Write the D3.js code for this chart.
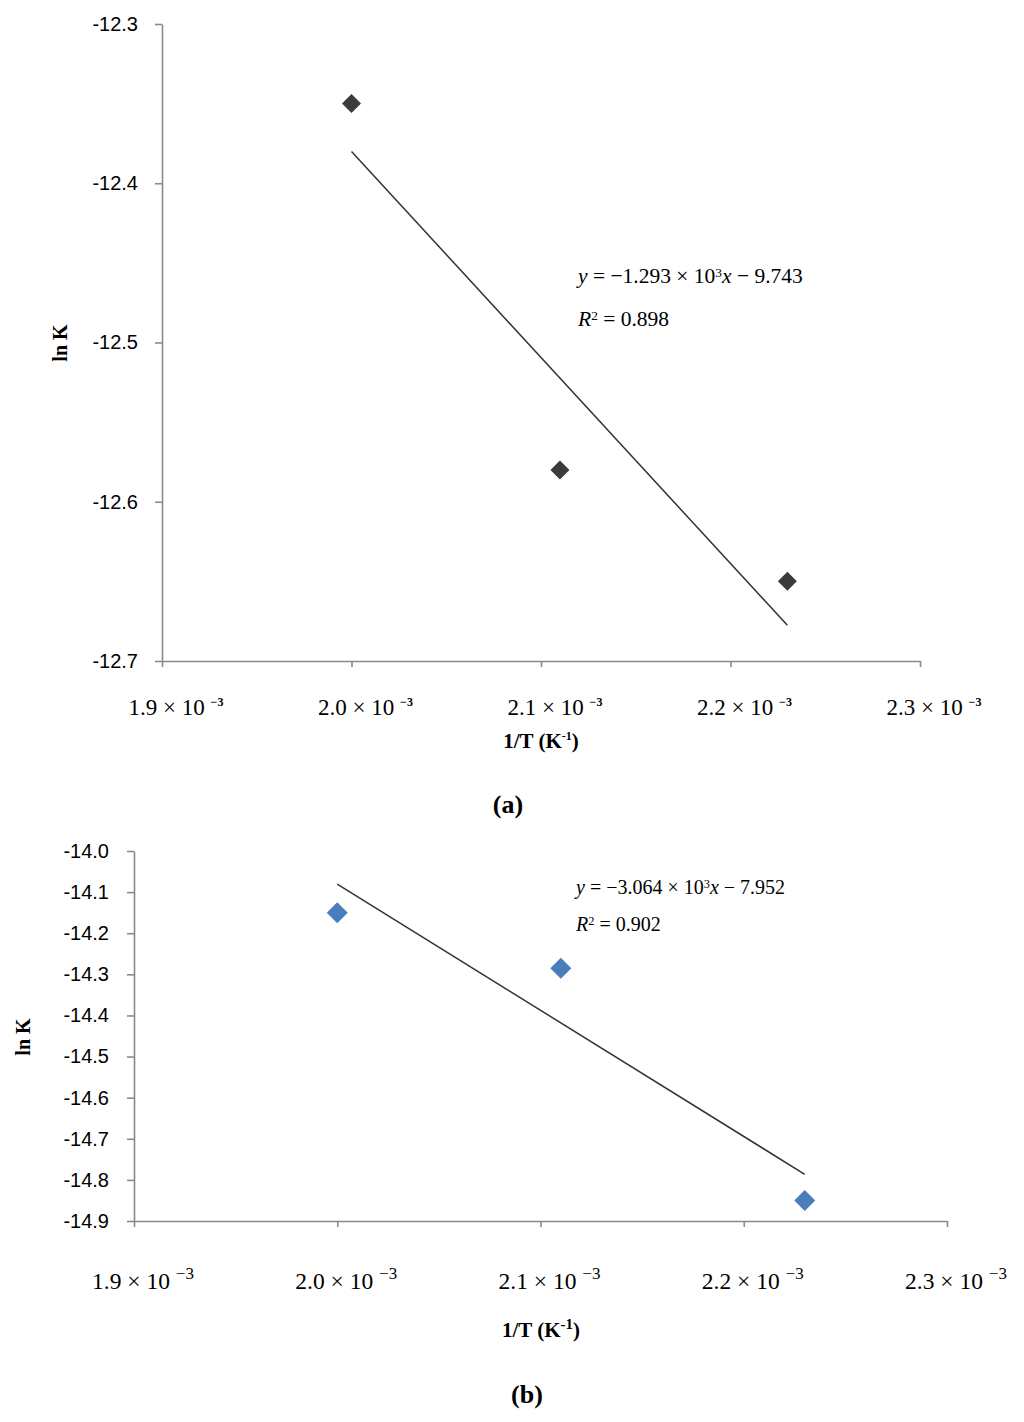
<!DOCTYPE html>
<html><head><meta charset="utf-8">
<script src="https://cdn.jsdelivr.net/npm/d3@7"></script>
<style>body{margin:0;background:#fff}svg{display:block}</style>
</head><body>
<svg id="c" width="1024" height="1422"></svg>
<script>
// ---- data ----
const xTicks = [1.9, 2.0, 2.1, 2.2, 2.3];          // ×10⁻³
const xTickLabels = ["1.9", "2.0", "2.1", "2.2", "2.3"];
const aYTicks = [-12.3, -12.4, -12.5, -12.6, -12.7];
const bYTicks = [-14.0, -14.1, -14.2, -14.3, -14.4, -14.5, -14.6, -14.7, -14.8, -14.9];
const aX = [2.0, 2.11, 2.23];
const aY = [-12.35, -12.58, -12.65];
const bX = [2.0, 2.11, 2.23];
const bY = [-14.15, -14.285, -14.85];
const aEq = ["−1.293", "−9.743", "0.898"];
const bEq = ["−3.064", "−7.952", "0.902"];

const svg = d3.select("#c");
const serif = "'Liberation Serif','Times New Roman',serif";
const sans = "'Liberation Sans',Arial,sans-serif";

function fit(xs, ys){
  const mx = d3.mean(xs), my = d3.mean(ys);
  const sxy = d3.sum(xs, (x,i)=>(x-mx)*(ys[i]-my));
  const sxx = d3.sum(xs, x=>(x-mx)*(x-mx));
  const m = sxy/sxx; return {m, b: my - m*mx};
}

function chart(o){
  const x = d3.scaleLinear().domain([1.9, 2.3]).range(o.xr);
  const y = d3.scaleLinear().domain(o.yd).range(o.yr);
  const g = svg.append("g");
  // y axis
  const ya = g.append("g").attr("transform", `translate(${o.xr[0]},0)`)
    .call(d3.axisLeft(y).tickValues(o.yTicks).tickSize(7).tickSizeOuter(0)
      .tickPadding(o.yPad).tickFormat(d=>d.toFixed(1)));
  ya.selectAll("text").attr("font-family", sans).attr("font-size", o.yFont).attr("fill","#000");
  // x axis
  const xa = g.append("g").attr("transform", `translate(0,${o.yr[0]})`)
    .call(d3.axisBottom(x).tickValues(xTicks).tickSize(6).tickSizeOuter(0).tickFormat(""));
  [ya, xa].forEach(a=>{
    a.select(".domain").attr("stroke","#8a8a8a").attr("stroke-width",1.6);
    a.selectAll(".tick line").attr("stroke","#8a8a8a").attr("stroke-width",1.6);
  });
  // x tick labels
  xTicks.forEach((t,i)=>{
    const tx = g.append("text").attr("x", x(t)+o.xlOff).attr("y", o.xlY)
      .attr("text-anchor","middle").attr("font-family", serif).attr("font-size", o.xFont);
    tx.append("tspan").text(xTickLabels[i] + " × 10" + o.supGap);
    tx.append("tspan").attr("dy", o.supDy).attr("font-size", o.supFont)
      .attr("font-weight", o.supBold).text("−3");
  });
  // trend line
  const f = fit(o.px, o.py);
  const lx = d3.extent(o.px);
  g.append("line").attr("x1", x(lx[0])).attr("y1", y(f.m*lx[0]+f.b))
    .attr("x2", x(lx[1])).attr("y2", y(f.m*lx[1]+f.b))
    .attr("stroke","#333").attr("stroke-width",1.5);
  // markers
  g.selectAll("path.pt").data(o.px).enter().append("path")
    .attr("d", d3.symbol(d3.symbolSquare, o.msize*o.msize/2)())
    .attr("transform",(d,i)=>`translate(${x(d)},${y(o.py[i])}) rotate(45)`)
    .attr("fill", o.mcol);
  // equation
  const e1 = g.append("text").attr("x", o.eqX).attr("y", o.eqY)
    .attr("font-family", serif).attr("font-size", o.eqFont);
  e1.append("tspan").attr("font-style","italic").text("y");
  e1.append("tspan").text(" = " + o.eq[0] + " × 10");
  e1.append("tspan").attr("font-size", o.eqFont*0.62).attr("dy", -o.eqFont*0.3).text("3");
  e1.append("tspan").attr("dy", o.eqFont*0.3).attr("font-style","italic").text("x");
  e1.append("tspan").text(" − " + o.eq[1].replace("−",""));
  const e2 = g.append("text").attr("x", o.eqX).attr("y", o.eqY + o.eqGap)
    .attr("font-family", serif).attr("font-size", o.eqFont);
  e2.append("tspan").attr("font-style","italic").text("R");
  e2.append("tspan").attr("font-size", o.eqFont*0.62).attr("dy", -o.eqFont*0.3).text("2");
  e2.append("tspan").attr("dy", o.eqFont*0.3).text(" = " + o.eq[2]);
  // axis titles
  g.append("text").attr("transform", `translate(${o.ylX},${o.ylY}) rotate(-90)`)
    .attr("text-anchor","middle").attr("font-family", serif).attr("font-weight","bold")
    .attr("font-size", 20).text("ln K");
  const xt = g.append("text").attr("x", o.xtX).attr("y", o.xtY).attr("text-anchor","middle")
    .attr("font-family", serif).attr("font-weight","bold").attr("font-size", 21);
  xt.append("tspan").text("1/T (K");
  xt.append("tspan").attr("dy",-8).attr("font-size", o.xtSup).text("-1");
  xt.append("tspan").attr("dy",8).text(")");
  g.append("text").attr("x", o.capX).attr("y", o.capY).attr("text-anchor","middle")
    .attr("font-family", serif).attr("font-weight","bold").attr("font-size", 26).text(o.cap);
}

chart({xr:[162,920], yd:[-12.7,-12.3], yr:[661,24], yTicks:aYTicks, yPad:17, yFont:20,
  xlOff:14, xlY:715, xFont:23, supGap:" ", supDy:-9, supFont:12, supBold:"bold",
  px:aX, py:aY, msize:19, mcol:"#3b3b3b",
  eq:aEq, eqX:578, eqY:283, eqFont:21.5, eqGap:43,
  ylX:67, ylY:343, xtX:541, xtY:748, xtSup:12, capX:508, capY:813, cap:"(a)"});

chart({xr:[134,947], yd:[-14.9,-14.0], yr:[1221,851], yTicks:bYTicks, yPad:18, yFont:20,
  xlOff:9, xlY:1289, xFont:23.5, supGap:" ", supDy:-10, supFont:17, supBold:"normal",
  px:bX, py:bY, msize:21, mcol:"#4a7ebb",
  eq:bEq, eqX:576, eqY:894, eqFont:20, eqGap:37,
  ylX:30, ylY:1037, xtX:541, xtY:1337, xtSup:15, capX:527, capY:1403, cap:"(b)"});
</script>
</body></html>
